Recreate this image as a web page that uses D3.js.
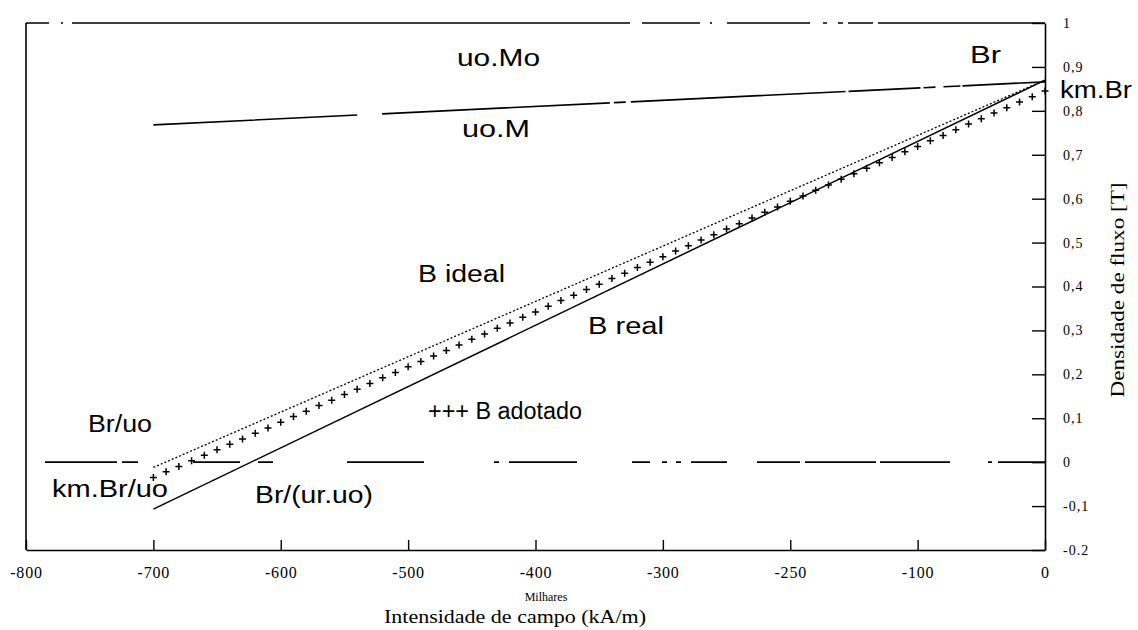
<!DOCTYPE html>
<html>
<head>
<meta charset="utf-8">
<script src="https://cdn.jsdelivr.net/npm/d3@7"></script>
<style>
  html, body { margin: 0; padding: 0; background: #fff; }
  svg { display: block; }
  .lbl { font-family: "Liberation Sans", Arial, sans-serif; font-size: 23px; fill: #000; }
  .ttl { font-family: "Liberation Serif", "Times New Roman", serif; fill: #000; }
</style>
</head>
<body>
<svg id="chart" width="1138" height="630"></svg>
<script>
// Field intensity H (kA/m) and flux density B (T) of the magnet model

// x axis ticks and their printed labels
const xTicks = [-800, -700, -600, -500, -400, -300, -200, -100, 0];
const xTickLabels = ["-800", "-700", "-600", "-500", "-400", "-300", "-250", "-100", "0"];

// y axis ticks and their printed labels
const yTicks = [1, 0.9, 0.8, 0.7, 0.6, 0.5, 0.4, 0.3, 0.2, 0.1, 0, -0.1, -0.2];
const yTickLabels = ["1", "0,9", "0,8", "0,7", "0,6", "0,5", "0,4", "0,3", "0,2", "0,1", "0", "-0,1", "-0.2"];

// uo.Mo : saturation level (constant)
const uoMoH = [-800, 0];
const uoMoB = [1.0, 1.0];

// Br/uo : zero flux reference
const zeroH = [-800, 0];
const zeroB = [0, 0];

// uo.M : magnetisation line
const uoMH = [-700, 0];
const uoMB = [0.768, 0.866];

// B ideal
const idealH = [-700, 0];
const idealB = [-0.012, 0.87];

// B real
const realH = [-700, 0];
const realB = [-0.107, 0.87];

// B adotado (+ markers)
const adotH = [-700, -690, -680, -670, -660, -650, -640, -630, -620, -610,
               -600, -590, -580, -570, -560, -550, -540, -530, -520, -510,
               -500, -490, -480, -470, -460, -450, -440, -430, -420, -410,
               -400, -390, -380, -370, -360, -350, -340, -330, -320, -310,
               -300, -290, -280, -270, -260, -250, -240, -230, -220, -210,
               -200, -190, -180, -170, -160, -150, -140, -130, -120, -110,
               -100, -90, -80, -70, -60, -50, -40, -30, -20, -10, 0];
const adotB = [-0.035, -0.022, -0.010, 0.003, 0.016, 0.028, 0.041, 0.053, 0.066, 0.078,
               0.091, 0.104, 0.116, 0.129, 0.141, 0.154, 0.166, 0.179, 0.192, 0.204,
               0.217, 0.229, 0.242, 0.254, 0.267, 0.280, 0.292, 0.305, 0.317, 0.330,
               0.342, 0.355, 0.368, 0.380, 0.393, 0.405, 0.418, 0.430, 0.443, 0.455,
               0.468, 0.481, 0.493, 0.506, 0.518, 0.531, 0.543, 0.556, 0.569, 0.581,
               0.594, 0.606, 0.619, 0.631, 0.644, 0.657, 0.669, 0.682, 0.694, 0.707,
               0.719, 0.732, 0.744, 0.757, 0.770, 0.782, 0.795, 0.807, 0.820, 0.832, 0.845];

const svg = d3.select("#chart");
svg.append("rect").attr("width", 1138).attr("height", 630).attr("fill", "#fff");

const x = d3.scaleLinear().domain([-800, 0]).range([26, 1045]);
const y = d3.scaleLinear().domain([-0.2, 1.0]).range([550, 23]);

const line = d3.line().x(d => x(d[0])).y(d => y(d[1]));
const pairs = (hs, bs) => hs.map((h, i) => [h, bs[i]]);

// left frame line
svg.append("line")
  .attr("x1", x(-800)).attr("x2", x(-800))
  .attr("y1", y(1.0)).attr("y2", y(-0.2))
  .attr("stroke", "#000").attr("stroke-width", 1.6);

// bottom axis, ticks pointing inward
const xAxis = d3.axisBottom(x)
  .tickValues(xTicks)
  .tickFormat((d, i) => xTickLabels[i])
  .tickSizeInner(-10).tickSizeOuter(0).tickPadding(17);
const gx = svg.append("g").attr("transform", `translate(0,${y(-0.2)})`).call(xAxis)
  .attr("font-family", "Liberation Serif, Times New Roman, serif")
  .attr("font-size", 16);
gx.select(".domain").attr("stroke", "#000").attr("stroke-width", 1.6);
gx.selectAll(".tick line").attr("stroke", "#000").attr("stroke-width", 1.4);
gx.selectAll(".tick text").attr("dy", "0.71em").attr("fill", "#000")
  .attr("letter-spacing", "0.8px");

// right axis, ticks pointing inward, labels outside
const yAxis = d3.axisRight(y)
  .tickValues(yTicks)
  .tickFormat((d, i) => yTickLabels[i])
  .tickSizeInner(-13).tickSizeOuter(0).tickPadding(18);
const gy = svg.append("g").attr("transform", `translate(${x(0)},0)`).call(yAxis)
  .attr("font-family", "Liberation Serif, Times New Roman, serif")
  .attr("font-size", 14);
gy.select(".domain").attr("stroke", "#000").attr("stroke-width", 1.6);
gy.selectAll(".tick line").attr("stroke", "#000").attr("stroke-width", 1.4);
gy.selectAll(".tick text").attr("text-anchor", "start").attr("fill", "#000")
  .attr("letter-spacing", "1px");

// uo.Mo line along the top
svg.append("path").datum(pairs(uoMoH, uoMoB)).attr("d", line)
  .attr("fill", "none").attr("stroke", "#000").attr("stroke-width", 1.6)
  .attr("stroke-dasharray", "23,12,2,9,558,12,58,10,2,15,83,13,4,11,5,5,25,5,167");

// Br/uo zero line
svg.append("path").datum(pairs(zeroH, zeroB)).attr("d", line)
  .attr("fill", "none").attr("stroke", "#000").attr("stroke-width", 1.6)
  .attr("stroke-dasharray", "0,19,72,5,16,55,47,18,15,74,77,70,5,10,68,55,18,12,5,9,5,10,36,30,43,5,71,4,70,38,4,6,47");

// uo.M line
svg.append("path").datum(pairs(uoMH, uoMB)).attr("d", line)
  .attr("fill", "none").attr("stroke", "#000").attr("stroke-width", 1.6)
  .attr("stroke-dasharray", "204,25,228,4,12,5,215,3,72,3,12,8,17,2,240");

// B ideal (dotted)
svg.append("path").datum(pairs(idealH, idealB)).attr("d", line)
  .attr("fill", "none").attr("stroke", "#000").attr("stroke-width", 1.3)
  .attr("stroke-dasharray", "2,2");

// B real (solid)
svg.append("path").datum(pairs(realH, realB)).attr("d", line)
  .attr("fill", "none").attr("stroke", "#000").attr("stroke-width", 1.5);

// B adotado markers
svg.append("g").selectAll("path").data(pairs(adotH, adotB)).join("path")
  .attr("transform", d => `translate(${x(d[0])},${y(d[1])})`)
  .attr("d", "M-3.5,0H3.5M0,-3.5V3.5")
  .attr("stroke", "#000").attr("stroke-width", 1.5).attr("fill", "none");

// curve annotations: [text, left x, baseline y, width]
const notes = [
  ["uo.Mo", 457, 66, 83],
  ["uo.M", 462, 137, 68],
  ["Br", 970, 63, 31],
  ["km.Br", 1060, 98, 72],
  ["B ideal", 418, 282, 87],
  ["B real", 588, 334, 76],
  ["+++ B adotado", 428, 419, 154],
  ["Br/uo", 88, 432, 64],
  ["km.Br/uo", 52, 497, 116],
  ["Br/(ur.uo)", 255, 503, 118]
];
svg.append("g").selectAll("text").data(notes).join("text")
  .attr("class", "lbl")
  .attr("x", d => d[1]).attr("y", d => d[2])
  .attr("textLength", d => d[3]).attr("lengthAdjust", "spacingAndGlyphs")
  .text(d => d[0]);

// axis titles
svg.append("text").attr("class", "ttl")
  .attr("x", 546).attr("y", 601).attr("text-anchor", "middle")
  .attr("font-size", 12).text("Milhares");
svg.append("text").attr("class", "ttl")
  .attr("x", 515).attr("y", 623).attr("text-anchor", "middle")
  .attr("font-size", 18).attr("textLength", 262).attr("lengthAdjust", "spacingAndGlyphs")
  .text("Intensidade de campo (kA/m)");
svg.append("text").attr("class", "ttl")
  .attr("transform", "translate(1124,290) rotate(-90)")
  .attr("text-anchor", "middle")
  .attr("font-size", 18).attr("textLength", 215).attr("lengthAdjust", "spacingAndGlyphs")
  .text("Densidade de fluxo [T]");
</script>
</body>
</html>
